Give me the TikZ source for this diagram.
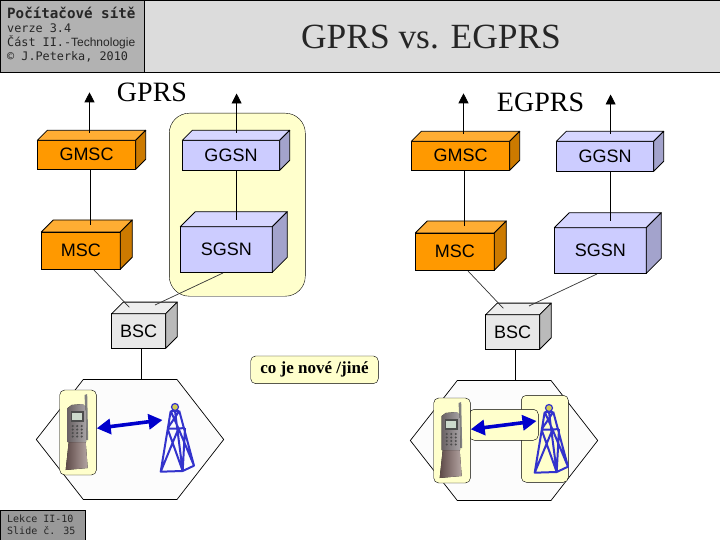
\documentclass[tikz,border=0pt]{standalone}
\usepackage{fontspec}
\setmainfont{Liberation Serif}
\newfontfamily\labelfont{Liberation Sans}
\newfontfamily\termfont{DejaVu Sans Mono}
\usetikzlibrary{arrows.meta}
\definecolor{headgray}{HTML}{B2B2B2}
\definecolor{bargray}{HTML}{DCDCDC}
\definecolor{footgray}{HTML}{999999}
\definecolor{noteyellow}{HTML}{FFFFCC}
\definecolor{cellfill}{HTML}{FCFCFC}
\definecolor{linkblue}{HTML}{0000CC}
\definecolor{mastblue}{HTML}{3333CC}
\definecolor{orangeFront}{HTML}{FF9900}
\definecolor{orangeTop}{HTML}{FFAD33}
\definecolor{orangeSide}{HTML}{CC7A00}
\definecolor{violetFront}{HTML}{CCCCFF}
\definecolor{violetTop}{HTML}{D6D6FF}
\definecolor{violetSide}{HTML}{A3A3CC}
\definecolor{grayFront}{HTML}{E8E8E8}
\definecolor{grayTop}{HTML}{EEEEEE}
\definecolor{graySide}{HTML}{BABABA}
\definecolor{flipdark}{HTML}{5E4A48}
\definecolor{fliplight}{HTML}{B5A5A3}
\definecolor{bodydark}{HTML}{6A6264}
\definecolor{bodylight}{HTML}{A8A4A6}
\tikzset{head style/.style={
		draw=black,
		anchor=north west,
		inner sep=0pt,
		outer sep=0pt,
	},
	term style/.style={
		anchor=west,
		inner sep=0pt,
		text=black!85,
		font=\termfont\fontsize{#1}{#1}\selectfont,
	},
	box style/.style={
		draw=black,
		thick,
		inner sep=0pt,
		outer sep=0pt,
		font=\labelfont\fontsize{18}{20}\selectfont,
	},
	note style/.style={
		draw=black,
		fill=noteyellow,
		rounded corners=5pt,
		inner sep=0pt,
		outer sep=0pt,
	},
	up style/.style={
		draw=black,
		thick,
		-{Triangle[length=10pt,width=10pt]},
	},
	wire style/.style={
		draw=black,
		thick,
	},
	thin wire/.style={
		draw=black!80,
		line width=0.7pt,
	},
	radio style/.style={
		draw=linkblue,
		line width=3.6pt,
		{Triangle[length=14pt,width=15pt]}-{Triangle[length=14pt,width=15pt]},
	},
	mast/.pic={
		\draw[mastblue,line width=2pt,line join=round]
			(-4.3,4) -- (-14.3,64.7) -- (7.7,64) -- (19,58.7) -- (4.3,4)
			(0,4) -- (7.7,64)
			(-7.5,21.5) -- (3.5,21.5) -- (10,21)
			(-7.5,21.5) -- (7.7,64) (3.5,21.5) -- (-14.3,64.7)
			(3.5,21.5) -- (19,58.7) (10,21) -- (7.7,64)
			(-4.3,4) -- (3.5,21.5) (4.3,4) -- (-7.5,21.5)
			(-4.3,4) -- (4.3,4);
		\draw[mastblue,fill=yellow!60!gray,line width=1.2pt] (0,0) circle (3.5);
	},
	handset/.pic={
		\fill[black!50] (25,5) -- (27.5,4) -- (28.5,50) -- (25.5,50) -- cycle;
		\fill[left color=flipdark,right color=fliplight] (9,52) -- (26,52) -- (28,78) -- (6,80) -- cycle;
		\fill[left color=bodydark,right color=bodylight] (8,18) -- (12,15) -- (23,14) -- (26,17) -- (26.5,52) -- (8,52) -- cycle;
		\fill[black!70] (11,21) rectangle (24,32);
		\fill[green!25!black!20] (12.7,23) rectangle (22.5,30);
		\foreach \row in {36,39.5,43,46.5}
			\foreach \col in {13,17.5,22}
				\fill[black!70] (\col,\row) circle (1.2);
	},
}
\newcommand{\netbox}[8]{%
	\node[box style,fill=#7Front,minimum width=#4pt,minimum height=#5pt] (#1) at (#2,#3) {#8};
	\draw[fill=#7Top,thick,line join=round] (#1.north west) -- ++(#6,-#6) -- ++(#4,0) -- (#1.north east) -- cycle;
	\draw[fill=#7Side,thick,line join=round] (#1.north east) -- ++(#6,-#6) -- ++(0,#5) -- (#1.south east) -- cycle;
}

\begin{document}
\begin{tikzpicture}[x=1pt,y=-1pt]
	\useasboundingbox (0,0) rectangle (720,540);
	
	\node[head style,fill=bargray,minimum width=720pt,minimum height=72pt] (TitleBar) at (0,0) {};
	\node[head style,fill=headgray,minimum width=144pt,minimum height=72pt] (HeadBox) at (0,0) {};
	\node[head style,fill=footgray,minimum width=85pt,minimum height=30pt] (FootBox) at (0,510) {};
	\node[term style=14.2,font=\termfont\bfseries\fontsize{14.2}{14.2}\selectfont] (HeadA) at (7,12.7) {Počítačové sítě};
	\node[term style=11.8] (HeadB) at (7,28) {verze 3.4};
	\node[term style=11.8] (HeadC) at (7,42.7) {Část II.-{\labelfont\fontsize{12}{12}\selectfont Technologie}};
	\node[term style=11.8] (HeadD) at (7,57) {© J.Peterka, 2010};
	\node[term style=10] (FootA) at (7,519) {Lekce II-10};
	\node[term style=10] (FootB) at (7,531) {Slide č. 35};
	\node[font=\fontsize{35.4}{38}\selectfont,text=black!85,inner sep=0pt] (Title) at (431,37) {GPRS vs. EGPRS};
	\node[font=\fontsize{28}{30}\selectfont,inner sep=0pt] (GprsLabel) at (152,92) {GPRS};
	\node[font=\fontsize{28}{30}\selectfont,inner sep=0pt] (EgprsLabel) at (540.5,102) {EGPRS};
	
	\node[note style,rounded corners=20pt,minimum width=136pt,minimum height=183pt] (NewArea) at (237.3,204.7) {};
	\node[note style,font=\bfseries\fontsize{17}{19}\selectfont,minimum width=127.6pt,minimum height=27.7pt] (Note) at (314.5,369.8) {co je nové /jiné};
	
	% both networks share one layout
	\foreach \s/\dx/\dy in {L/0/0,R/374/1}{
		\begin{scope}[shift={(\dx,\dy)}]
			\netbox{GMSC\s}{86.5}{154.8}{98.4}{29}{10}{orange}{GMSC}
			\netbox{MSC\s}{80.8}{250.6}{79}{37.3}{12}{orange}{MSC}
			\netbox{GGSN\s}{231}{155.3}{97.4}{30}{10}{violet}{GGSN}
			\netbox{SGSN\s}{226.3}{249.5}{92}{45.6}{15}{violet}{SGSN}
			\netbox{BSC\s}{138.7}{331}{54}{34.6}{11.6}{gray}{BSC}
			
			\coordinate (GMSCin\s) at (90.3,225);
			\coordinate (GMSCtop\s) at (89.5,133);
			\coordinate (GMSCup\s) at (89.5,92.3);
			\coordinate (GGSNin\s) at (236.6,220);
			\coordinate (GGSNtop\s) at (236.6,133);
			\coordinate (GGSNup\s) at (236.6,93.5);
			\coordinate (MSCout\s) at (94,270);
			\coordinate (SGSNout\s) at (223,273);
			\coordinate (BSCa\s) at (129.3,307.3);
			\coordinate (BSCb\s) at (155,305);
			\coordinate (CellTop\s) at (141,379.5);
			
			\draw[up style] (GMSCtop\s) -- (GMSCup\s);
			\draw[up style] (GGSNtop\s) -- (GGSNup\s);
			\draw[wire style] (GMSCin\s |- GMSC\s.south) -- (GMSCin\s);
			\draw[wire style] (GGSNin\s |- GGSN\s.south) -- (GGSNin\s);
			\draw[thin wire] (MSCout\s) -- (BSCa\s);
			\draw[thin wire] (SGSNout\s) -- (BSCb\s);
			\draw[wire style] (CellTop\s |- BSC\s.south) -- (CellTop\s);
			
			\draw[black,fill=cellfill,line width=0.7pt] (36.3,439.5) -- (83.3,379.5) -- (177,379.5) -- (223.7,439.5) -- (177,499.5) -- (83.3,499.5) -- cycle;
		\end{scope}
	}
	
	\node[note style,minimum width=47pt,minimum height=87pt] (MastArea) at (544.8,438.8) {};
	\node[note style,minimum width=69pt,minimum height=31pt] (LinkArea) at (503.8,424.8) {};
	
	\foreach \s/\dx/\dy/\py in {L/0/0/0,R/374/1/8}{
		\begin{scope}[shift={(\dx,\dy)}]
			\node[note style,anchor=north west,minimum width=36.7pt,minimum height=85pt] (Phone\s) at (59.7,390+\py-\dy) {};
			\pic at (59.7,390+\py-\dy) {handset};
			\pic at (175,407) {mast};
			\coordinate (MastEnd\s) at (162.5,420);
			\coordinate (PhoneEnd\s) at (96.7,428.3);
			\draw[radio style] (PhoneEnd\s) -- (MastEnd\s);
		\end{scope}
	}
\end{tikzpicture}
\end{document}
